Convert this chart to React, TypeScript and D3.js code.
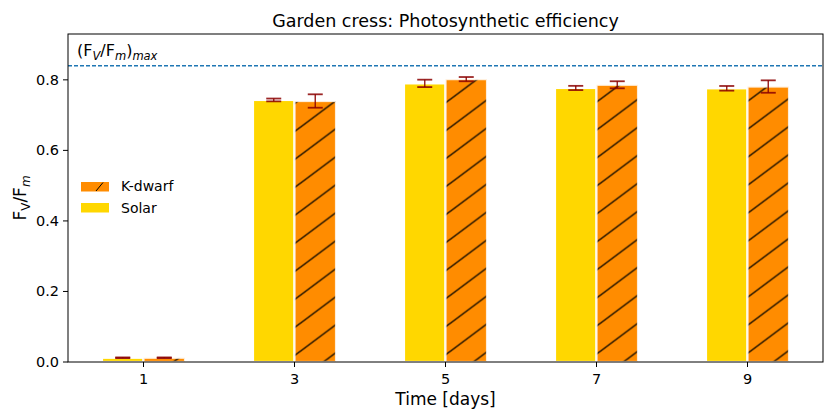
import React, { useEffect } from 'react'
import * as d3 from 'd3'

const days = [1, 3, 5, 7, 9]
const solarMean = [0.012, 0.743, 0.79, 0.777, 0.776]
const solarErr = [0.001, 0.004, 0.0105, 0.006, 0.0066]
const kdwarfMean = [0.012, 0.74, 0.802, 0.786, 0.781]
const kdwarfErr = [0.001, 0.019, 0.006, 0.01, 0.0176]
const yTicks = [0, 0.2, 0.4, 0.6, 0.8]
const fvfmMax = 0.84

const W = 824
const H = 410
const margin = { top: 34, right: 1, bottom: 48, left: 68 }
const font = 'DejaVu Sans, sans-serif'
const SOLAR = '#FFD700'
const KDWARF = '#FF8C00'
const ERR = '#8b0000'
const barW = 0.55

export default function App() {
  useEffect(() => {
    document.body.style.margin = '0'
  }, [])

  const x = d3.scaleLinear().domain([0, 10]).range([margin.left, W - margin.right])
  const y = d3.scaleLinear().domain([0, 0.93]).range([H - margin.bottom, margin.top])
  const y0 = y(0)

  const errBar = (cx: number, m: number, e: number, key: string) => (
    <g key={key} stroke={ERR} strokeOpacity={0.85}>
      <line x1={cx} x2={cx} y1={y(m - e)} y2={y(m + e)} strokeWidth={1.5} />
      <line x1={cx - 7.5} x2={cx + 7.5} y1={y(m - e)} y2={y(m - e)} strokeWidth={1.8} />
      <line x1={cx - 7.5} x2={cx + 7.5} y1={y(m + e)} y2={y(m + e)} strokeWidth={1.8} />
    </g>
  )

  return (
    <svg width={W} height={H} style={{ display: 'block' }} fontFamily={font}>
      <defs>
        <pattern id="hatch" patternUnits="userSpaceOnUse" width={37.5} height={28} y={15.5}>
          <rect width={37.5} height={28} fill={KDWARF} />
          <g stroke="#000" strokeWidth={1.3}>
            <line x1={-37.5} y1={28} x2={37.5} y2={-28} />
            <line x1={-37.5} y1={56} x2={75} y2={-28} />
            <line x1={0} y1={56} x2={75} y2={0} />
          </g>
        </pattern>
        <clipPath id="plot">
          <rect x={margin.left} y={margin.top} width={W - margin.left - margin.right} height={y0 - margin.top} />
        </clipPath>
      </defs>

      <text x={(margin.left + W - margin.right) / 2} y={27} textAnchor="middle" fontSize={17.5}>
        Garden cress: Photosynthetic efficiency
      </text>

      <g clipPath="url(#plot)">
        {days.map((d, i) => (
          <g key={'b' + d}>
            <rect x={x(d - barW)} width={x(d) - x(d - barW)} y={y(solarMean[i])}
              height={y0 - y(solarMean[i])} fill={SOLAR} stroke="#fff" strokeWidth={2.2} />
            <rect x={x(d)} width={x(d + barW) - x(d)} y={y(kdwarfMean[i])}
              height={y0 - y(kdwarfMean[i])} fill="url(#hatch)" stroke="#fff" strokeWidth={2.2} strokeOpacity={0.85} />
          </g>
        ))}
        {days.map((d, i) => errBar(x(d - barW / 2), solarMean[i], solarErr[i], 's' + d))}
        {days.map((d, i) => errBar(x(d + barW / 2), kdwarfMean[i], kdwarfErr[i], 'k' + d))}
        <line x1={margin.left} x2={W - margin.right} y1={y(fvfmMax)} y2={y(fvfmMax)}
          stroke="#1f77b4" strokeWidth={1.4} strokeDasharray="4,2" />
      </g>

      <text x={77} y={56} fontSize={16}>
        (F<tspan fontSize={11.5} fontStyle="italic" dy={4}>V</tspan>
        <tspan dy={-4}>/F</tspan>
        <tspan fontSize={11.5} fontStyle="italic" dy={4}>m</tspan>
        <tspan dy={-4}>)</tspan>
        <tspan fontSize={11.5} fontStyle="italic" dy={4}>max</tspan>
      </text>

      <rect x={margin.left} y={margin.top} width={W - margin.left - margin.right} height={y0 - margin.top}
        fill="none" stroke="#000" strokeWidth={1} />

      {yTicks.map(t => (
        <g key={'y' + t}>
          <line x1={margin.left - 5} x2={margin.left} y1={y(t)} y2={y(t)} stroke="#000" />
          <text x={margin.left - 9} y={y(t) + 5} textAnchor="end" fontSize={14.5}>{t.toFixed(1)}</text>
        </g>
      ))}
      {days.map(d => (
        <g key={'x' + d}>
          <line x1={x(d)} x2={x(d)} y1={y0} y2={y0 + 5} stroke="#000" />
          <text x={x(d)} y={y0 + 22} textAnchor="middle" fontSize={14.5}>{d}</text>
        </g>
      ))}

      <text x={(margin.left + W - margin.right) / 2} y={405} textAnchor="middle" fontSize={17}>
        Time [days]
      </text>
      <text transform={`translate(26,${(margin.top + y0) / 2}) rotate(-90)`} textAnchor="middle" fontSize={17}>
        F<tspan fontSize={12} dy={4}>V</tspan>
        <tspan dy={-4}>/F</tspan>
        <tspan fontSize={12} fontStyle="italic" dy={4}>m</tspan>
      </text>

      <g fontSize={14}>
        <rect x={81} y={182} width={28} height={9.5} fill={KDWARF} />
        <line x1={96} y1={191} x2={103} y2={182.5} stroke="#000" strokeWidth={1} />
        <text x={121} y={191}>K-dwarf</text>
        <rect x={81} y={203} width={28} height={9.5} fill={SOLAR} />
        <text x={121} y={212.5}>Solar</text>
      </g>
    </svg>
  )
}
